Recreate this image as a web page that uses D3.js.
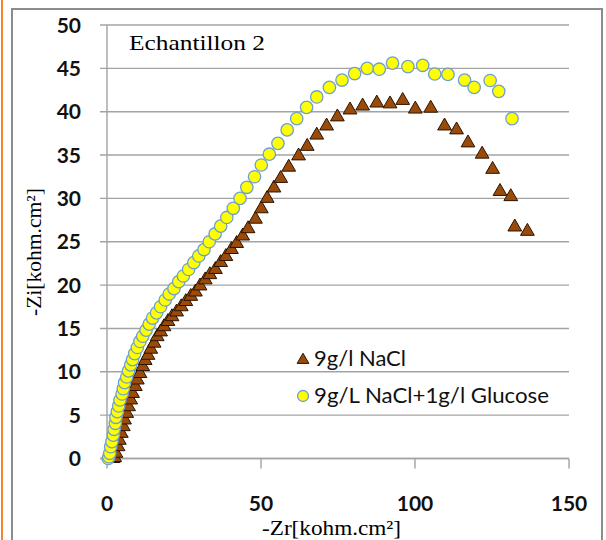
<!DOCTYPE html>
<html><head><meta charset="utf-8">
<script src="https://cdn.jsdelivr.net/npm/d3@7/dist/d3.min.js"></script>
<style>body{margin:0;background:#fff}svg{display:block}</style>
</head><body><svg id="c" width="606" height="540"></svg>
<script>
const xTicks = [0, 50, 100, 150];
const yTicks = [0, 5, 10, 15, 20, 25, 30, 35, 40, 45, 50];
const seriesNames = ["9g/l NaCl", "9g/L NaCl+1g/l Glucose"];
const chartTitle = "Echantillon 2";
const xTitle = "-Zr[kohm.cm\u00B2]";
const yTitle = "-Zi[kohm.cm\u00B2]";

// Series 1: 9g/l NaCl (triangles)
const naclZr = [1.3,2.0,2.5,2.9,3.6,4.0,4.65,5.3,5.7,6.4,7.0,7.7,8.3,9.2,9.85,10.7,11.6,12.4,13.3,14.2,15.3,16.3,17.4,18.5,19.8,21.1,22.6,24.1,25.6,27.2,28.7,30.2,31.9,33.4,35.2,36.9,38.6,40.4,42.1,44.05,45.8,48.2,50.1,52.0,54.2,56.4,59.0,62.2,65.0,68.1,71.3,74.8,78.9,83.0,87.6,91.9,96.0,100.1,105.1,109.6,113.5,117.2,121.8,125.2,127.6,131.1,132.4,136.5];
const naclZi = [0.0,0.0,0.1,0.6,1.36,2.1,2.9,3.67,4.44,5.2,5.97,6.75,7.5,8.3,9.05,9.8,10.6,11.3,11.9,12.6,13.3,14.05,14.6,15.2,15.8,16.35,16.9,17.5,18.1,18.7,19.2,19.9,20.6,21.2,21.8,22.6,23.3,24.1,24.8,25.66,26.5,27.6,28.8,30.0,31.2,32.3,33.6,34.9,36.0,37.3,38.35,39.4,40.2,40.65,41.0,40.9,41.3,40.3,40.4,38.35,37.9,36.4,35.1,33.35,30.8,30.2,26.7,26.2];

// Series 2: 9g/L NaCl + 1g/l Glucose (circles)
const gluZr = [0.4,0.6,0.9,1.2,1.6,2.05,2.3,2.7,2.9,3.35,3.8,4.2,4.9,5.3,5.7,6.4,7.0,7.7,8.3,9.0,9.85,10.7,11.6,12.7,13.7,14.8,16.1,17.4,18.9,20.2,21.75,23.3,24.8,26.5,28.2,29.8,31.5,33.2,35.1,36.9,38.9,41.0,43.2,45.4,47.9,50.1,52.7,55.5,58.5,61.6,64.8,68.1,72.2,76.3,80.4,84.5,88.4,92.7,97.7,102.5,106.4,110.7,116.1,119.2,124.4,127.2,131.5];
const gluZi = [0.0,0.2,0.6,1.36,1.94,2.7,3.37,4.06,4.75,5.4,6.06,6.75,7.44,8.05,8.75,9.4,10.1,10.8,11.4,12.1,12.8,13.5,14.1,14.8,15.5,16.2,16.8,17.5,18.28,18.97,19.6,20.4,21.05,21.8,22.6,23.36,24.1,25.0,25.9,26.8,27.8,28.86,30.0,31.28,32.5,33.85,35.1,36.35,37.9,39.2,40.5,41.7,42.8,43.65,44.4,45.0,44.9,45.6,45.2,45.35,44.35,44.3,43.65,42.8,43.6,42.35,39.2];

const svg = d3.select("#c");
const x = d3.scaleLinear().domain([0, 150]).range([107, 569]);
const y = d3.scaleLinear().domain([0, 50]).range([458.5, 25]);

svg.append("rect").attr("width", 606).attr("height", 540).attr("fill", "#fff");
// left orange edge and grey frame
svg.append("rect").attr("x", 1).attr("y", 0).attr("width", 2).attr("height", 540).attr("fill", "#f4852a");
svg.append("rect").attr("x", 12).attr("y", 9).attr("width", 590).attr("height", 545)
  .attr("fill", "none").attr("stroke", "#8c8c8c").attr("stroke-width", 2);

// horizontal gridlines (with outward ticks)
svg.append("g").selectAll("line").data(yTicks).join("line")
  .attr("x1", 100).attr("x2", x(150))
  .attr("y1", d => y(d)).attr("y2", d => y(d))
  .attr("stroke", "#a3a3a3").attr("stroke-width", 1.4);

// axes lines
svg.append("line").attr("x1", x(0)).attr("x2", x(0)).attr("y1", y(50)).attr("y2", y(0))
  .attr("stroke", "#a3a3a3").attr("stroke-width", 1.4);
svg.append("line").attr("x1", 100).attr("x2", x(150)).attr("y1", y(0)).attr("y2", y(0))
  .attr("stroke", "#a3a3a3").attr("stroke-width", 1.4);
svg.append("g").selectAll("line").data(xTicks).join("line")
  .attr("x1", d => x(d)).attr("x2", d => x(d)).attr("y1", y(0)).attr("y2", y(0) + 10)
  .attr("stroke", "#a3a3a3").attr("stroke-width", 1.4);

// tick labels
const tickFont = "Lato, 'Open Sans', sans-serif";
svg.append("g").selectAll("text").data(yTicks).join("text")
  .attr("x", 81).attr("y", d => y(d)).attr("dy", "0.36em")
  .attr("text-anchor", "end").attr("font-family", tickFont).attr("font-weight", "bold")
  .attr("font-size", 21).attr("fill", "#111").text(d => d);
svg.append("g").selectAll("text").data(xTicks).join("text")
  .attr("x", d => x(d)).attr("y", 511)
  .attr("text-anchor", "middle").attr("font-family", tickFont).attr("font-weight", "bold")
  .attr("font-size", 21).attr("fill", "#111").text(d => d);

// titles
const serif = "'Liberation Serif', 'DejaVu Serif', serif";
svg.append("text").attr("x", 129).attr("y", 50).attr("font-family", serif)
  .attr("font-size", 22).attr("textLength", 136).attr("lengthAdjust", "spacingAndGlyphs")
  .attr("fill", "#000").text(chartTitle);
svg.append("text").attr("x", 262).attr("y", 535).attr("font-family", serif)
  .attr("font-size", 22).attr("textLength", 139).attr("lengthAdjust", "spacingAndGlyphs")
  .attr("fill", "#000").text(xTitle);
svg.append("text").attr("transform", "translate(41,252) rotate(-90)")
  .attr("text-anchor", "middle").attr("font-family", serif)
  .attr("font-size", 21).attr("textLength", 128).attr("lengthAdjust", "spacingAndGlyphs")
  .attr("fill", "#000").text(yTitle);

// series
const triColor = "#9a4b0a", triStroke = "#2a1300";
const circColor = "#ffff00", circStroke = "#6e9fd2";
const tri = d3.symbol().type(d3.symbolTriangle).size(82);

const naclData = naclZr.map((v, i) => [v, naclZi[i]]);
const gluData = gluZr.map((v, i) => [v, gluZi[i]]);

svg.append("g").selectAll("path").data(naclData).join("path")
  .attr("d", tri).attr("transform", d => `translate(${x(d[0])},${y(d[1])})`)
  .attr("fill", triColor).attr("stroke", triStroke).attr("stroke-width", 1);

svg.append("g").selectAll("circle").data(gluData).join("circle")
  .attr("cx", d => x(d[0])).attr("cy", d => y(d[1])).attr("r", 6.2)
  .attr("fill", circColor).attr("stroke", circStroke).attr("stroke-width", 1.3);

// legend
const legFont = "Lato, 'Open Sans', sans-serif";
const leg = svg.append("g");
leg.append("path").attr("d", d3.symbol().type(d3.symbolTriangle).size(60))
  .attr("transform", "translate(303,360)").attr("fill", triColor).attr("stroke", triStroke).attr("stroke-width", 1);
leg.append("text").attr("x", 314).attr("y", 366).attr("font-family", legFont).attr("font-size", 21)
  .attr("textLength", 92).attr("lengthAdjust", "spacingAndGlyphs").attr("fill", "#111").text(seriesNames[0]);
leg.append("circle").attr("cx", 303).attr("cy", 396).attr("r", 5.5)
  .attr("fill", circColor).attr("stroke", circStroke).attr("stroke-width", 1.3);
leg.append("text").attr("x", 314).attr("y", 403).attr("font-family", legFont).attr("font-size", 21)
  .attr("textLength", 235).attr("lengthAdjust", "spacingAndGlyphs").attr("fill", "#111").text(seriesNames[1]);
</script></body></html>
